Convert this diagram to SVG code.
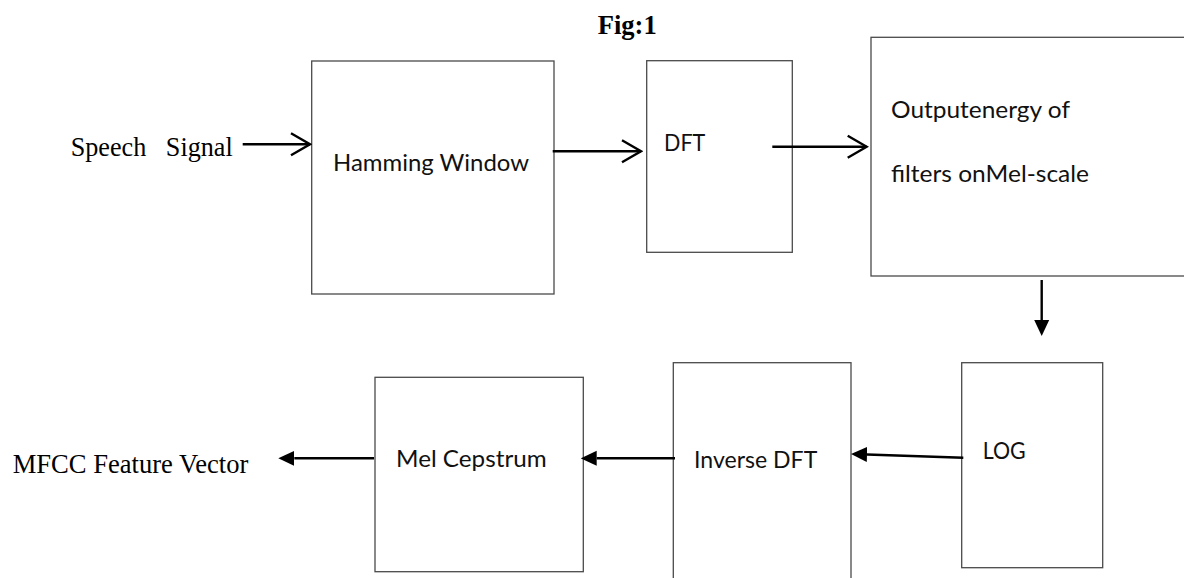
<svg xmlns="http://www.w3.org/2000/svg" width="1184" height="578" viewBox="0 0 1184 578">
  <style>
    .box { fill: #ffffff; stroke: #4a4a4a; stroke-width: 1.3; }
    .serif { font-family: "Liberation Serif", "Times New Roman", serif; font-size: 26.67px; fill: #000; }
    .bold { font-weight: bold; }
    .sans { font-family: Lato, "Open Sans", sans-serif; font-size: 24px; fill: #111; }
    .conn { fill: none; stroke: #000; stroke-width: 2.4; }
  </style>
  <defs>
    <marker id="open" markerUnits="userSpaceOnUse" viewBox="-22 -14 24 28" refX="0" refY="0" markerWidth="24" markerHeight="28" orient="auto">
      <path d="M-19,-11 L0,0 L-19,11" fill="none" stroke="#000" stroke-width="2.4"/>
    </marker>
    <marker id="solid" markerUnits="userSpaceOnUse" viewBox="0 -8 16 16" refX="0" refY="0" markerWidth="16" markerHeight="16" orient="auto">
      <path d="M0,-7.5 L16,0 L0,7.5 Z" fill="#000"/>
    </marker>
  </defs>

  <rect width="1184" height="578" fill="#ffffff"/>

  <text id="title" class="serif bold" x="597.7" y="34.3" textLength="59" lengthAdjust="spacingAndGlyphs">Fig:1</text>

  <g id="speech-signal">
    <text class="serif" x="70.7" y="156" xml:space="preserve" textLength="162" lengthAdjust="spacingAndGlyphs">Speech   Signal</text>
  </g>

  <g id="hamming-window">
    <rect class="box" x="311.7" y="61" width="242.3" height="233"/>
    <text class="sans" x="333" y="171" textLength="196" lengthAdjust="spacingAndGlyphs">Hamming Window</text>
  </g>

  <g id="dft">
    <rect class="box" x="646.7" y="60.7" width="145.6" height="191.6"/>
    <text class="sans" x="664" y="151" textLength="41.3" lengthAdjust="spacingAndGlyphs">DFT</text>
  </g>

  <g id="mel-filters">
    <rect class="box" x="871" y="37.3" width="340" height="238.7"/>
    <text class="sans" x="891" y="118.3" textLength="179" lengthAdjust="spacingAndGlyphs">Outputenergy of</text>
    <text class="sans" x="891" y="182.3" textLength="198" lengthAdjust="spacingAndGlyphs">filters onMel-scale</text>
  </g>

  <g id="log">
    <rect class="box" x="961.7" y="362.7" width="141" height="205"/>
    <text class="sans" x="982.7" y="459" textLength="43" lengthAdjust="spacingAndGlyphs">LOG</text>
  </g>

  <g id="inverse-dft">
    <rect class="box" x="673.3" y="362.7" width="177.7" height="240"/>
    <text class="sans" x="694" y="468.3" textLength="123.3" lengthAdjust="spacingAndGlyphs">Inverse DFT</text>
  </g>

  <g id="mel-cepstrum">
    <rect class="box" x="375" y="377.3" width="208.3" height="194.4"/>
    <text class="sans" x="396" y="467.3" textLength="150.7" lengthAdjust="spacingAndGlyphs">Mel Cepstrum</text>
  </g>

  <g id="mfcc-output">
    <text class="serif" x="12.7" y="472.7" textLength="235.7" lengthAdjust="spacingAndGlyphs">MFCC Feature Vector</text>
  </g>

  <g id="connectors">
    <line class="conn" x1="242.7" y1="144.3" x2="310" y2="144.3" marker-end="url(#open)"/>
    <line class="conn" x1="552.7" y1="151.3" x2="641" y2="151.3" marker-end="url(#open)"/>
    <line class="conn" x1="772.3" y1="146.7" x2="866.7" y2="146.7" marker-end="url(#open)"/>
    <line class="conn" x1="1041.7" y1="280" x2="1041.7" y2="320" marker-end="url(#solid)"/>
    <line class="conn" x1="963.3" y1="457.7" x2="867" y2="454.5" marker-end="url(#solid)"/>
    <line class="conn" x1="675" y1="458.3" x2="596.7" y2="458.3" marker-end="url(#solid)"/>
    <line class="conn" x1="374" y1="458.3" x2="294.3" y2="458.3" marker-end="url(#solid)"/>
  </g>
</svg>
